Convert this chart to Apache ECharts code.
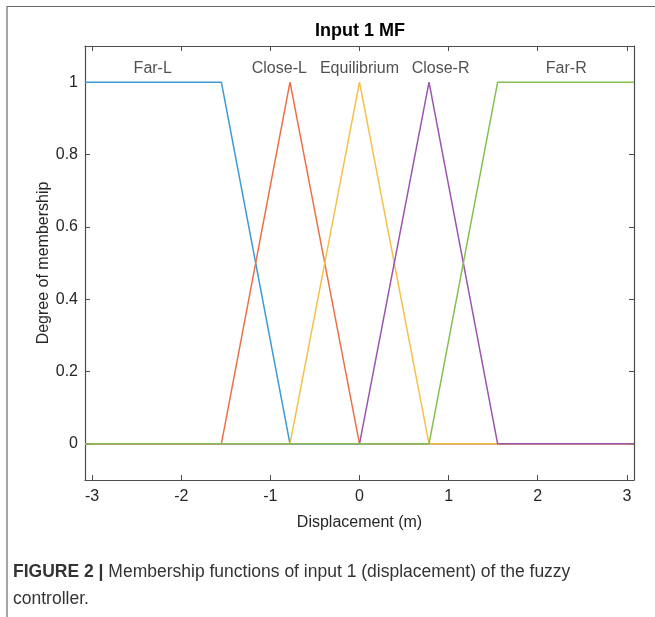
<!DOCTYPE html>
<html>
<head>
<meta charset="utf-8">
<script src="https://cdn.jsdelivr.net/npm/echarts@6/dist/echarts.min.js"></script>
<style>
  html, body { margin: 0; padding: 0; background: #fff; }
  #chart { width: 655px; height: 617px; }
</style>
</head>
<body>
<div id="chart"></div>
<script>
// x limits and breakpoints of the membership functions
const xLimits = [-3.08, 3.08]
const yLimits = [-0.1, 1.1]
const breakpoints = [-3.08, -1.55, -0.78, 0, 0.78, 1.55, 3.08]
const mfNames = ['Far-L', 'Close-L', 'Equilibrium', 'Close-R', 'Far-R']
const farL = [1, 1, 0, 0, 0, 0, 0]
const closeL = [0, 0, 1, 0, 0, 0, 0]
const equilibrium = [0, 0, 0, 1, 0, 0, 0]
const closeR = [0, 0, 0, 0, 1, 0, 0]
const farR = [0, 0, 0, 0, 0, 1, 1]
const labelX = [-2.32, -0.9, 0, 0.91, 2.32]
const labelY = 1.037
const xTicks = [-3, -2, -1, 0, 1, 2, 3]
const yTicks = [0, 0.2, 0.4, 0.6, 0.8, 1]

const colors = ['#3d9ad6', '#ec7146', '#f5c04a', '#9b54b0', '#84c04f']
const axisColor = '#4d4d4d'
const textColor = '#262626'
const font = 'Liberation Sans, Arial, sans-serif'

const chart = echarts.init(document.getElementById('chart'))

const mfSeries = [farL, closeL, equilibrium, closeR, farR].map((vals, i) => ({
  name: mfNames[i],
  type: 'line',
  z: 2 + i * 0.01,
  data: breakpoints.map((x, j) => [x, vals[j]]),
  symbol: 'none',
  lineStyle: { color: colors[i], width: 1.5 },
  animation: false
}))

const axisLine = { show: true, onZero: false, lineStyle: { color: axisColor, width: 1.2 } }
const ticks = vals => ({ show: true, inside: true, length: 5, customValues: vals, lineStyle: { color: axisColor } })

chart.setOption({
  animation: false,
  textStyle: { fontFamily: font },
  grid: { left: 85, right: 21, top: 46, bottom: 137 },
  xAxis: [{
    type: 'value',
    min: xLimits[0],
    max: xLimits[1],
    position: 'bottom',
    axisLine: axisLine,
    axisTick: ticks(xTicks),
    axisLabel: { customValues: xTicks, color: textColor, fontSize: 16, margin: 9, fontFamily: font },
    splitLine: { show: false },
    name: 'Displacement (m)',
    nameLocation: 'middle',
    nameGap: 35,
    nameMoveOverlap: false,
    nameTextStyle: { color: textColor, fontSize: 16, fontFamily: font }
  }, {
    type: 'value',
    min: xLimits[0],
    max: xLimits[1],
    position: 'top',
    axisLine: axisLine,
    axisTick: ticks(xTicks),
    axisLabel: { show: false },
    splitLine: { show: false }
  }],
  yAxis: [{
    type: 'value',
    min: yLimits[0],
    max: yLimits[1],
    position: 'left',
    axisLine: axisLine,
    axisTick: ticks(yTicks),
    axisLabel: { customValues: yTicks, color: textColor, fontSize: 16, margin: 7, fontFamily: font },
    splitLine: { show: false },
    name: 'Degree of membership',
    nameLocation: 'middle',
    nameGap: 33,
    nameMoveOverlap: false,
    nameTextStyle: { color: textColor, fontSize: 16, fontFamily: font }
  }, {
    type: 'value',
    min: yLimits[0],
    max: yLimits[1],
    position: 'right',
    axisLine: axisLine,
    axisTick: ticks(yTicks),
    axisLabel: { show: false },
    splitLine: { show: false }
  }],
  series: mfSeries.concat([{
    type: 'scatter',
    symbolSize: 1,
    itemStyle: { color: 'transparent' },
    data: mfNames.map((n, i) => ({ name: n, value: [labelX[i], labelY] })),
    label: {
      show: true,
      position: 'inside',
      formatter: p => p.name,
      color: textColor,
      fontSize: 16,
      fontFamily: font
    },
    silent: true
  }]),
  graphic: [
    {
      type: 'text',
      x: 360, y: 31,
      style: {
        text: 'Input 1 MF',
        fill: '#000',
        font: 'bold 18px ' + font,
        textAlign: 'center',
        textVerticalAlign: 'middle'
      }
    },
    {
      type: 'polyline',
      shape: { points: [[7, 617], [7, 6.5], [655, 6.5]] },
      style: { stroke: '#6b6b6b', lineWidth: 1.2, fill: null }
    },
    {
      type: 'text',
      x: 13, y: 572,
      style: {
        text: '{b|FIGURE 2 |} Membership functions of input 1 (displacement) of the fuzzy',
        fill: '#333',
        font: '17.5px ' + font,
        textVerticalAlign: 'middle',
        rich: {
          b: { fontWeight: 'bold', fontSize: 17.5, fill: '#333', fontFamily: font }
        }
      }
    },
    {
      type: 'text',
      x: 13, y: 599,
      style: {
        text: 'controller.',
        fill: '#333',
        font: '17.5px ' + font,
        textVerticalAlign: 'middle'
      }
    }
  ]
})
</script>
</body>
</html>
